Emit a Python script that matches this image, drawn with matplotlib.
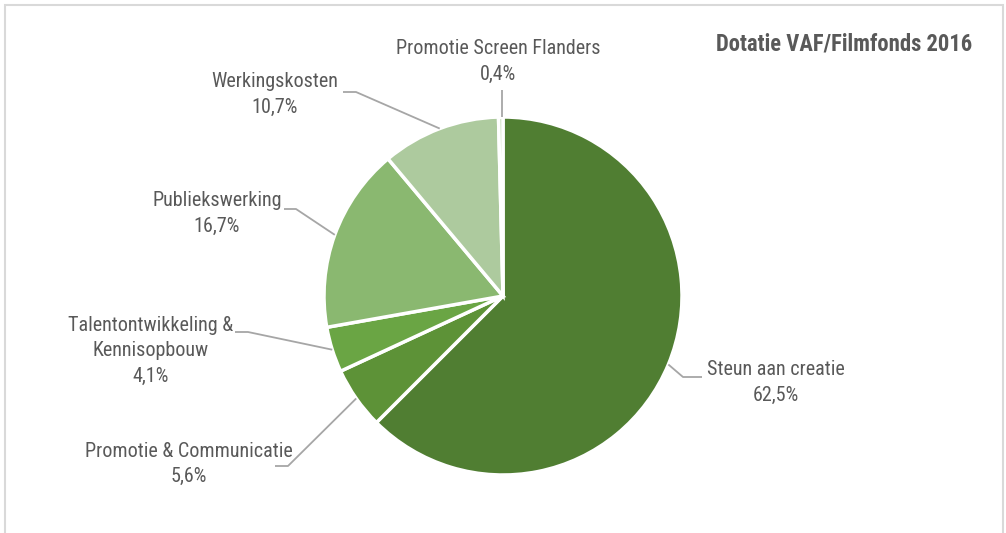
import numpy as np
import matplotlib
matplotlib.use("Agg")
import matplotlib.pyplot as plt
from matplotlib.patches import Rectangle
from matplotlib import font_manager

categories = ["Steun aan creatie", "Promotie & Communicatie",
              "Talentontwikkeling &\nKennisopbouw", "Publiekswerking",
              "Werkingskosten", "Promotie Screen Flanders"]
values = [62.5, 5.6, 4.1, 16.7, 10.7, 0.4]
pct_labels = ["62,5%", "5,6%", "4,1%", "16,7%", "10,7%", "0,4%"]
colors = ["#507E32", "#5D9237", "#6AA544", "#8AB870", "#ADCA9E", "#C9DDBC"]
title = "Dotatie VAF/Filmfonds 2016"

names = {f.name for f in font_manager.fontManager.ttflist}
narrow = None
for cand in ["Liberation Sans Narrow", "Arial Narrow", "Roboto Condensed",
             "Open Sans Condensed", "DejaVu Sans Condensed"]:
    if cand in names:
        narrow = cand
        break

W, H = 1006, 533
if narrow:
    plt.rcParams['font.family'] = [narrow, 'DejaVu Sans']
    fs, tfs = 14.5, 16.3
else:
    plt.rcParams['font.family'] = ['Liberation Sans', 'DejaVu Sans']
    fs, tfs = 12.5, 13.5

fig = plt.figure(figsize=(W / 100, H / 100), dpi=100)
ax = fig.add_axes([0, 0, 1, 1])

cx, cy, R = 503, H - 296, 179
ax.pie(values, center=(cx, cy), radius=R, startangle=90, counterclock=False,
       colors=colors, wedgeprops=dict(edgecolor="white", linewidth=2.5))
ax.set_xlim(0, W)
ax.set_ylim(0, H)
ax.set_aspect("equal")
ax.axis("off")

# frame
ax.add_patch(Rectangle((5, -20), 998, H - 5 + 20, fill=False,
                       edgecolor="#D9D9D9", linewidth=1.5, clip_on=False))

txt_col = "#595959"
line_col = "#A6A6A6"
# label layout in pixel coords: text center, leader elbow, leader end
layout = [
    ((776, 382.5), (683, 377), (702, 377)),
    ((189, 464), (288, 466), (275, 466)),
    ((151, 351), (248, 332), (235, 332)),
    ((217, 213.5), (296, 209), (284, 209)),
    ((275, 94.5), (356, 92), (343, 92)),
    ((498, 61.5), (502, 90), None),
]

total = sum(values)
cum = 0.0
for cat, v, p, (tpos, elbow, end) in zip(categories, values, pct_labels, layout):
    mid = (cum + v / 2) / total
    cum += v
    ang = np.deg2rad(90 - 360 * mid)
    sx, sy = cx + R * np.cos(ang), cy + R * np.sin(ang)
    if end is None:
        sx = elbow[0]
    xs = [sx, elbow[0]]
    ys = [sy, H - elbow[1]]
    if end is not None:
        xs.append(end[0])
        ys.append(H - end[1])
    ax.plot(xs, ys, color=line_col, lw=1.3, solid_capstyle="butt")
    ax.text(tpos[0], H - tpos[1], f"{cat}\n{p}", ha="center", va="center",
            fontsize=fs, color=txt_col, linespacing=1.45)

ax.text(972, H - 44, title, ha="right", va="center", fontsize=tfs,
        fontweight="bold", color=txt_col)

fig.savefig("out.png", dpi=100)
